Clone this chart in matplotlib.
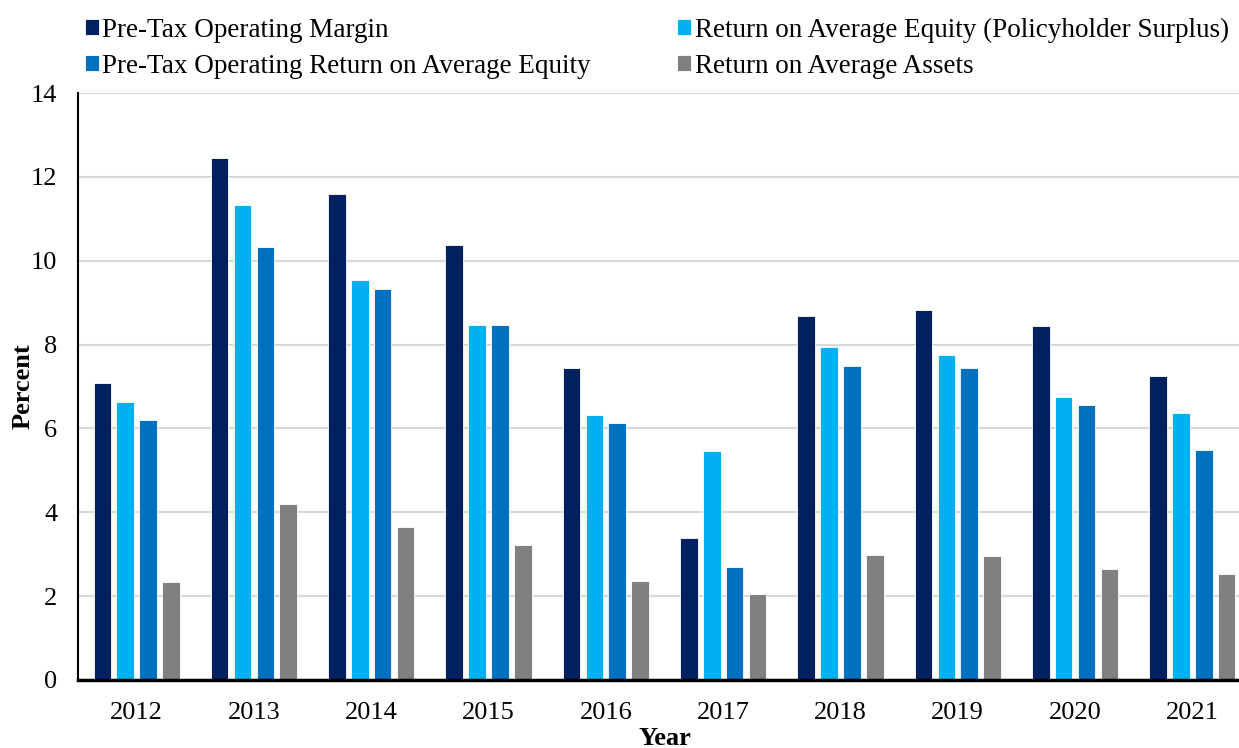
import numpy as np
import matplotlib
matplotlib.use('Agg')
import matplotlib.pyplot as plt

years = ['2012', '2013', '2014', '2015', '2016', '2017', '2018', '2019', '2020', '2021']
pretax_margin = [7.08, 12.46, 11.58, 10.37, 7.44, 3.39, 8.69, 8.82, 8.45, 7.26]
roe_surplus = [6.62, 11.33, 9.54, 8.46, 6.31, 5.47, 7.95, 7.75, 6.74, 6.36]
pretax_roe = [6.21, 10.32, 9.33, 8.47, 6.14, 2.70, 7.50, 7.43, 6.56, 5.48]
roa = [2.34, 4.20, 3.64, 3.21, 2.37, 2.06, 2.99, 2.95, 2.64, 2.52]

names = ['Pre-Tax Operating Margin',
         'Return on Average Equity (Policyholder Surplus)',
         'Pre-Tax Operating Return on Average Equity',
         'Return on Average Assets']
colors = ['#002060', '#00B0F0', '#0070C0', '#808080']
series = [pretax_margin, roe_surplus, pretax_roe, roa]

plt.rcParams['font.family'] = ['Liberation Serif', 'DejaVu Serif']

fig = plt.figure(figsize=(12.39, 7.48), dpi=100)
ax = fig.add_axes([78/1239, 68/748, 1173/1239, 587/748])

x = np.arange(len(years))
step = 0.195
width = 0.15
bars = []
for i, (vals, c, n) in enumerate(zip(series, colors, names)):
    b = ax.bar(x + (i - 1.5) * step, vals, width, color=c, label=n,
               edgecolor='white', linewidth=0.6, zorder=3)
    bars.append(b)

ax.set_xlim(-0.5, 9.5)
ax.set_ylim(0, 14)
ax.set_yticks(range(0, 15, 2))
ax.set_xticks(x)
ax.set_xticklabels(years)
ax.tick_params(axis='both', length=0, labelsize=19)
ax.tick_params(axis='x', pad=16)
ax.tick_params(axis='y', pad=15)
ax.yaxis.grid(True, color='#d9d9d9', linewidth=1.5, zorder=0)
ax.set_axisbelow(True)
for s in ['top', 'right']:
    ax.spines[s].set_visible(False)
ax.spines['left'].set_linewidth(1.5)
ax.spines['bottom'].set_linewidth(2.5)
ax.spines['left'].set_zorder(4)
ax.spines['bottom'].set_zorder(4)

ax.set_ylabel('Percent', fontsize=19, fontweight='bold')
ax.yaxis.set_label_coords(-0.037, 0.5)
ax.set_xlabel('Year', fontsize=19, fontweight='bold')
ax.xaxis.set_label_coords(0.5, -0.08)

order = [0, 2, 1, 3]
fig.legend([bars[k] for k in order], [names[k] for k in order],
           loc='upper left', bbox_to_anchor=(67/1239, 1.0), ncol=2,
           frameon=False, fontsize=19.5, handlelength=0.52, handleheight=0.52,
           handletextpad=0.12, columnspacing=3.2, labelspacing=0.4,
           borderaxespad=0.25)

fig.savefig('out.png', dpi=100)
